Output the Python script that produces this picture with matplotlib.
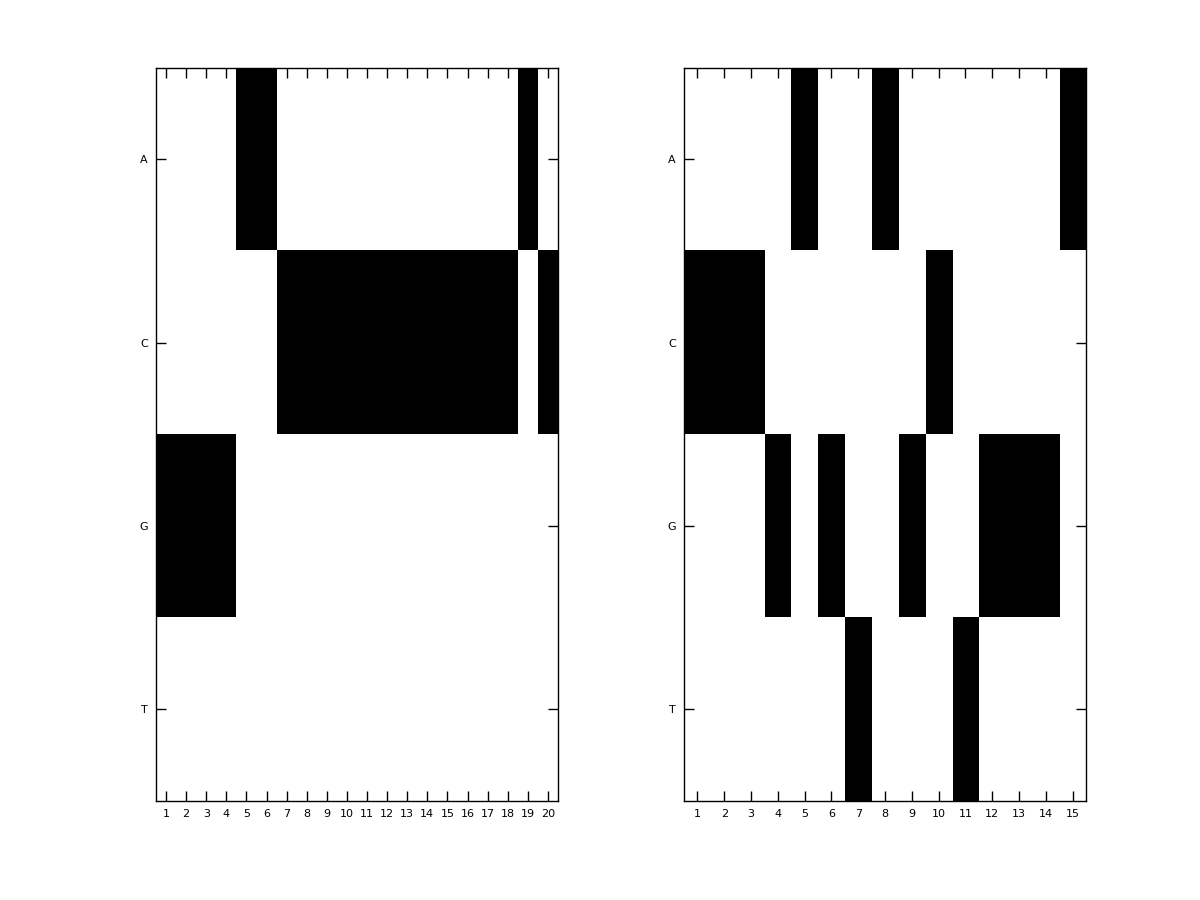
import numpy as np
import matplotlib
matplotlib.use("Agg")
import matplotlib.pyplot as plt

bases = ["A", "C", "G", "T"]
seq_left = "GGGGAACCCCCCCCCCCCAC"
seq_right = "CCCGAGTAGCTGGGA"


def one_hot(seq):
    m = np.zeros((len(bases), len(seq)))
    for j, ch in enumerate(seq):
        m[bases.index(ch), j] = 1
    return m


fig = plt.figure(figsize=(12, 9), dpi=100)
positions = [[0.13, 0.11, 0.335, 0.815], [0.57, 0.11, 0.335, 0.815]]

for pos, seq in zip(positions, [seq_left, seq_right]):
    ax = fig.add_axes(pos)
    mat = one_hot(seq)
    n = len(seq)
    ax.imshow(mat, cmap="gray_r", aspect="auto", interpolation="nearest",
              extent=(0.5, n + 0.5, len(bases) + 0.5, 0.5), vmin=0, vmax=1)
    ax.set_xlim(0.5, n + 0.5)
    ax.set_ylim(len(bases) + 0.5, 0.5)
    ax.set_xticks(np.arange(1, n + 1))
    ax.set_yticks(np.arange(1, len(bases) + 1))
    ax.set_yticklabels(bases)
    ax.tick_params(direction="in", length=7, width=1, top=True, right=True,
                   labelsize=8, pad=6)
    for sp in ax.spines.values():
        sp.set_linewidth(1)

fig.savefig("out.png", dpi=100)
